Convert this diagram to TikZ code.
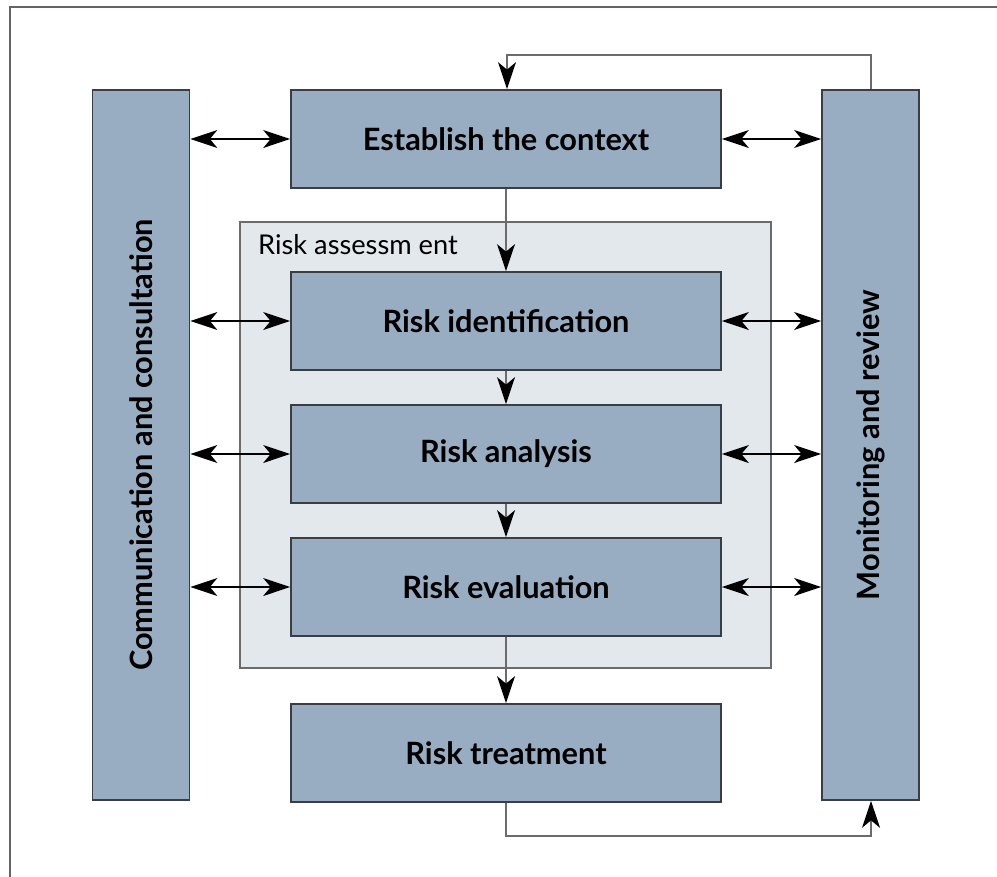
\documentclass[tikz,border=0pt]{standalone}
\usepackage{fontspec}
\setmainfont{Lato}
\usetikzlibrary{arrows.meta}
\definecolor{boxblue}{HTML}{98ACC2}
\definecolor{panegray}{HTML}{E3E8ED}
\definecolor{edgegray}{HTML}{3A3D42}
\definecolor{flowgray}{HTML}{6B6B6B}

\begin{document}
\begin{tikzpicture}[x=0.02cm, y=-0.02cm,
	stage/.style={draw=edgegray, line width=1pt, fill=boxblue, font=\bfseries\fontsize{17.5}{20}\selectfont, inner sep=0pt},
	wide/.style={stage, minimum width=8.6cm, minimum height=1.96cm},
	tall/.style={stage, minimum width=14.2cm, minimum height=1.94cm, rotate=90},
	twoway/.style={{Stealth[length=0.54cm, width=0.36cm, inset=0.15cm]}-{Stealth[length=0.54cm, width=0.36cm, inset=0.15cm]}, line width=0.8pt, black},
	flow/.style={-{Stealth[length=0.54cm, width=0.36cm, inset=0.15cm, color=black]}, line width=0.9pt, draw=flowgray}]
	\useasboundingbox (0, 0) rectangle (997, 876);
	\draw [line width=1.1pt, edgegray!80] (10, 880) -- (10, 7) -- (1000, 7);
	\node [draw=flowgray, line width=1pt, fill=panegray, minimum width=10.62cm, minimum height=8.92cm] (assess) at (505.5, 445) {};
	\node [anchor=west, font=\fontsize{15.5}{18}\selectfont] (assesslabel) at (252, 245) {Risk assessm ent};
	\node [tall] (comm) at (141, 445) {Communication and consultation};
	\node [tall] (monitor) at (870.5, 445) {Monitoring and review};
	\node [wide] (context) at (506, 139) {Establish the context};
	\node [wide] (ident) at (506, 321) {Risk identification};
	\node [wide] (analysis) at (506, 454) {Risk analysis};
	\node [wide] (evaluation) at (506, 587) {Risk evaluation};
	\node [wide] (treatment) at (506, 753) {Risk treatment};
	\coordinate (topright) at (871, 55);
	\coordinate (topleft) at (507, 55);
	\coordinate (lowleft) at (506, 836);
	\coordinate (lowright) at (871, 836);
	\foreach \stage in {context, ident, analysis, evaluation} {
		\draw [twoway] (comm.south |- \stage.west) -- (\stage.west);
		\draw [twoway] (\stage.east) -- (monitor.north |- \stage.east);
	}
	\draw [flow] (context) -- (ident);
	\draw [flow] (ident) -- (analysis);
	\draw [flow] (analysis) -- (evaluation);
	\draw [flow] (evaluation) -- (treatment);
	\draw [flow] (monitor.east -| topright) -- (topright) -- (topleft) -- (topleft |- context.north);
	\draw [flow] (treatment.south) -- (lowleft) -- (lowright) -- (lowright |- monitor.west);
\end{tikzpicture}
\end{document}
